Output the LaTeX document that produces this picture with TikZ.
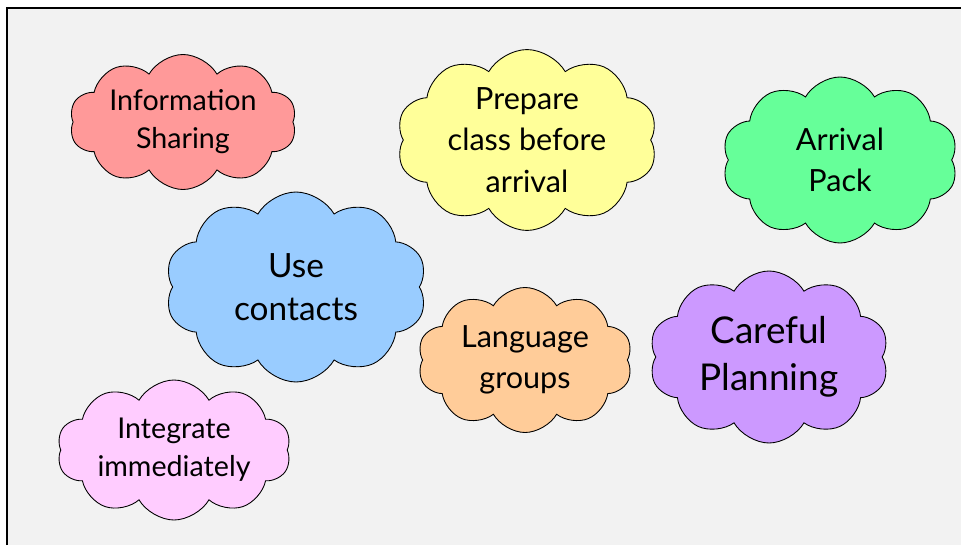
\documentclass[tikz,border=0pt]{standalone}
\usepackage{fontspec}
\setmainfont{Lato}
\usetikzlibrary{shapes.symbols}

\begin{document}
\begin{tikzpicture}
                \tikzset{idea/.style={cloud, cloud ignores aspect, draw=black, line width=.5pt,
                cloud puffs=10, cloud puff arc=120, inner sep=0pt,
                align=center},
                 small/.style={font=\fontsize{16.3}{21.5}\selectfont},
                 medium/.style={font=\fontsize{17.4}{23.5}\selectfont},
                 large/.style={font=\fontsize{19}{24.5}\selectfont},
                 huge/.style={font=\fontsize{21}{27}\selectfont}}

                \useasboundingbox (0,0) rectangle (19.22,10.9);
                \fill[black!5] (0.14,0) rectangle (19.22,10.74);
                \draw[line width=1.2pt] (0.14,0) -- (0.14,10.74) -- (19.22,10.74);

                \node[idea, small, fill={rgb,255:red,255;green,153;blue,153},
                    minimum width=4.54cm, minimum height=2.70cm] (sharing) at (3.66,8.46) {Information\\Sharing};
                \node[idea, medium, fill={rgb,255:red,255;green,255;blue,153},
                    minimum width=5.22cm, minimum height=3.28cm] (prepare) at (10.54,8.10) {Prepare\\class before\\arrival};
                \node[idea, medium, fill={rgb,255:red,102;green,255;blue,153},
                    minimum width=4.72cm, minimum height=3.32cm] (pack) at (16.80,7.70) {Arrival\\Pack};
                \node[idea, large, fill={rgb,255:red,153;green,204;blue,255},
                    minimum width=5.24cm, minimum height=3.80cm] (contacts) at (5.92,5.16) {Use\\contacts};
                \node[idea, medium, fill={rgb,255:red,255;green,204;blue,153},
                    minimum width=4.30cm, minimum height=2.90cm] (language) at (10.50,3.70) {Language\\groups};
                \node[idea, huge, fill={rgb,255:red,204;green,153;blue,255},
                    minimum width=4.80cm, minimum height=3.44cm] (planning) at (15.38,3.76) {Careful\\Planning};
                \node[idea, small, fill={rgb,255:red,255;green,204;blue,255},
                    minimum width=4.68cm, minimum height=2.80cm] (integrate) at (3.48,1.90) {Integrate\\immediately};
            \end{tikzpicture}
\end{document}
